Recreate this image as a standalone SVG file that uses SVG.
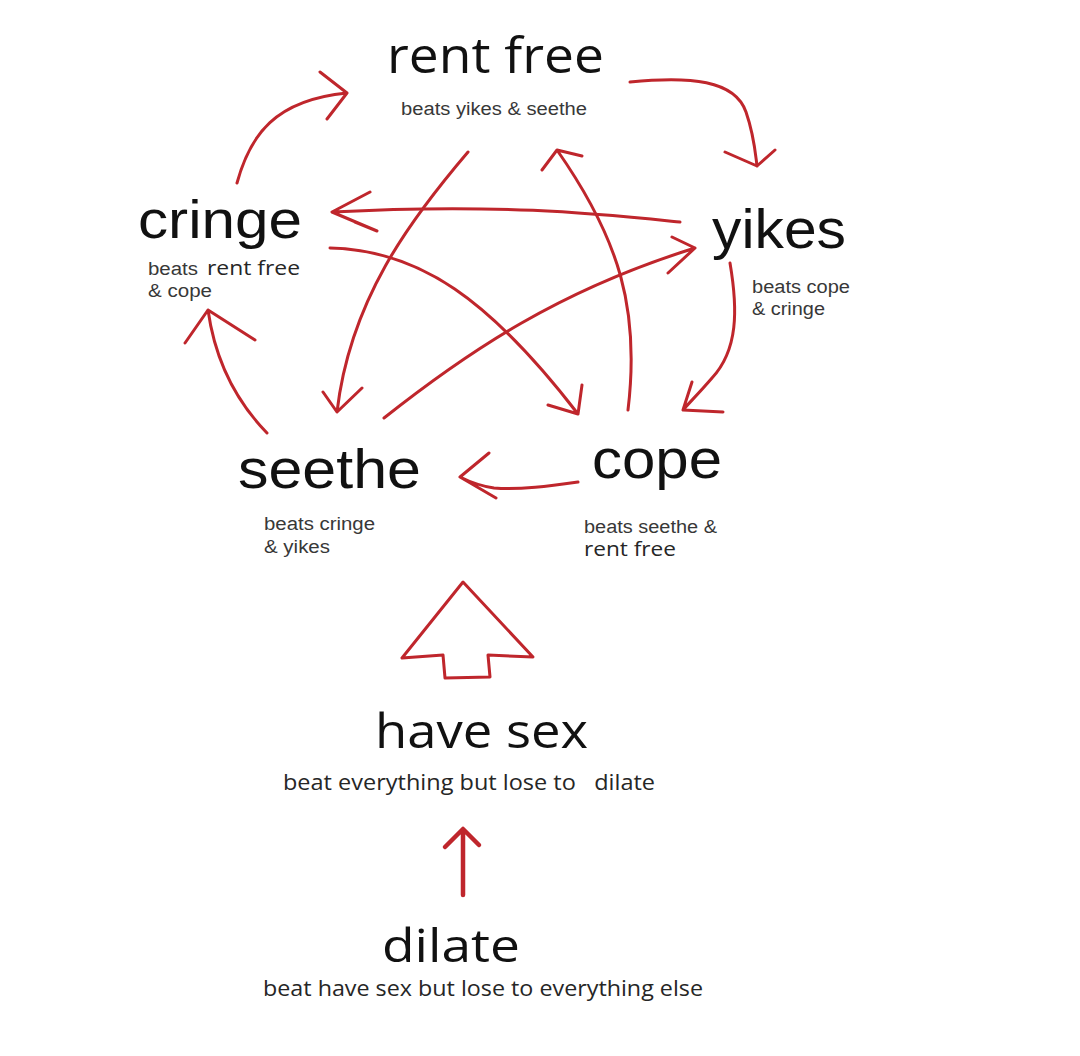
<svg xmlns="http://www.w3.org/2000/svg" width="1080" height="1056" viewBox="0 0 1080 1056">
<style>
.big{font-family:"Liberation Sans",Arial,sans-serif;fill:#111}
.cal{font-family:"Open Sans","Noto Sans",sans-serif;fill:#111}
.sm{font-family:"Liberation Sans",Arial,sans-serif;font-size:18px;fill:#383838}
.smc{font-family:"Open Sans","Noto Sans",sans-serif;fill:#262626}
.ln{fill:none;stroke:#bf262c;stroke-width:3;stroke-linecap:round;stroke-linejoin:round}
.thick{stroke-width:4.5}
</style>
<rect width="1080" height="1056" fill="#ffffff"/>
<g id="connectors">
  <path class="ln" d="M237,183 C250,135 275,100 347,93 M320,72 L347,93 L327,119"/>
  <path class="ln" d="M630,82 C690,76 735,80 746,112 C754,135 755,150 757,166 M725,152 L757,166 L775,150"/>
  <path class="ln" d="M680,222 C600,214 500,203 332,212 M370,192 L332,212 L377,231 L355,222"/>
  <path class="ln" d="M730,263 C738,310 738,350 712,378 C700,392 690,402 683,410 M692,382 L683,410 L723,412"/>
  <path class="ln" d="M628,410 C640,310 620,240 557,150 M542,170 L557,150 L582,156"/>
  <path class="ln" d="M468,152 C410,220 350,300 337,412 M323,392 L337,412 L362,388"/>
  <path class="ln" d="M330,248 C420,250 490,300 578,414 M548,405 L578,414 L582,385"/>
  <path class="ln" d="M384,418 C470,350 560,290 695,248 M672,237 L695,248 L668,273"/>
  <path class="ln" d="M267,433 C235,400 215,360 208,310 M185,343 L208,310 L255,340"/>
  <path class="ln" d="M578,482 C550,486 520,490 494,488 C480,486 470,482 460,477 M489,453 L460,477 L496,498"/>
  <path class="ln" d="M463,582 L402,658 L443,655 L445,678 L490,677 L488,655 L533,657 Z"/>
  <path class="ln thick" d="M463,895 L463,830 M445,847 L463,829 L479,845"/>
</g>
<g id="node-rent-free">
  <text class="cal" x="387" y="73" font-size="50" textLength="217" lengthAdjust="spacingAndGlyphs">rent free</text>
  <text class="sm" x="401" y="115" textLength="186" lengthAdjust="spacingAndGlyphs">beats yikes &amp; seethe</text>
</g>
<g id="node-cringe">
  <text class="big" x="138" y="238" font-size="54" textLength="164" lengthAdjust="spacingAndGlyphs">cringe</text>
  <text class="sm" x="148" y="275" textLength="50" lengthAdjust="spacingAndGlyphs">beats</text>
  <text class="smc" x="207" y="275" font-size="20" textLength="93" lengthAdjust="spacingAndGlyphs">rent free</text>
  <text class="sm" x="148" y="297" textLength="64" lengthAdjust="spacingAndGlyphs">&amp; cope</text>
</g>
<g id="node-yikes">
  <text class="big" x="712" y="248" font-size="56" textLength="134" lengthAdjust="spacingAndGlyphs">yikes</text>
  <text class="sm" x="752" y="293" textLength="98" lengthAdjust="spacingAndGlyphs">beats cope</text>
  <text class="sm" x="752" y="315" textLength="73" lengthAdjust="spacingAndGlyphs">&amp; cringe</text>
</g>
<g id="node-seethe">
  <text class="big" x="238" y="488" font-size="56" textLength="183" lengthAdjust="spacingAndGlyphs">seethe</text>
  <text class="sm" x="264" y="530" textLength="111" lengthAdjust="spacingAndGlyphs">beats cringe</text>
  <text class="sm" x="264" y="553" textLength="66" lengthAdjust="spacingAndGlyphs">&amp; yikes</text>
</g>
<g id="node-cope">
  <text class="big" x="592" y="478" font-size="56" textLength="130" lengthAdjust="spacingAndGlyphs">cope</text>
  <text class="sm" x="584" y="533" textLength="133" lengthAdjust="spacingAndGlyphs">beats seethe &amp;</text>
  <text class="smc" x="584" y="556" font-size="20" textLength="92" lengthAdjust="spacingAndGlyphs">rent free</text>
</g>
<g id="node-have-sex">
  <text class="cal" x="375" y="748" font-size="48" textLength="213" lengthAdjust="spacingAndGlyphs">have sex</text>
  <text class="smc" x="283" y="790" font-size="22" textLength="372" lengthAdjust="spacingAndGlyphs" xml:space="preserve">beat everything but lose to   dilate</text>
</g>
<g id="node-dilate">
  <text class="cal" x="382" y="962" font-size="46" textLength="138" lengthAdjust="spacingAndGlyphs">dilate</text>
  <text class="smc" x="263" y="996" font-size="22" textLength="440" lengthAdjust="spacingAndGlyphs">beat have sex but lose to everything else</text>
</g>
</svg>
